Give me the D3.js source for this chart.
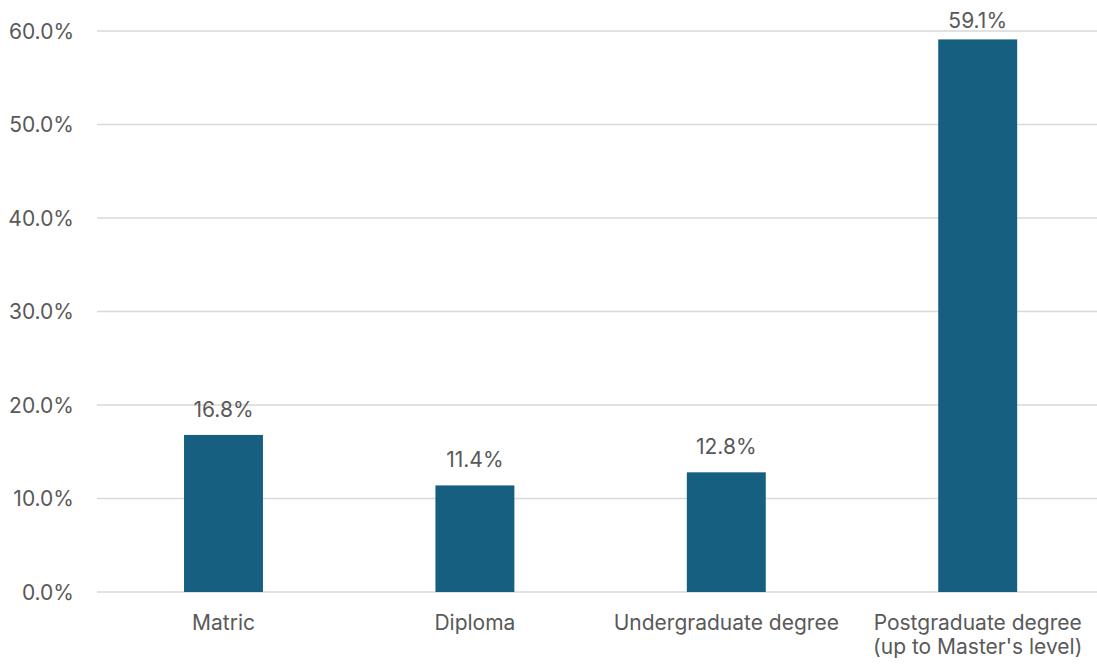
<!DOCTYPE html>
<html>
<head>
<meta charset="utf-8">
<script src="https://cdn.jsdelivr.net/npm/d3@7"></script>
<style>
  html, body { margin: 0; padding: 0; background: #fff; }
  svg { display: block; }
  text { font-family: Inter, "Open Sans", sans-serif; fill: #595959; }
</style>
</head>
<body>
<svg id="chart" width="1097" height="664"></svg>
<script>
// Share of respondents by highest qualification (percent)
const categories = ["Matric", "Diploma", "Undergraduate degree", "Postgraduate degree\n(up to Master's level)"];
const values = [16.8, 11.4, 12.8, 59.1];
const yTicks = [0, 10, 20, 30, 40, 50, 60];

const svg = d3.select("#chart");
const W = 1097;
const FS = 21;

const x = d3.scaleBand()
  .domain(categories)
  .range([97.8, 1103.4])
  .paddingInner(0.686)
  .paddingOuter(0.343);

const y = d3.scaleLinear().domain([0, 60]).range([592, 31]);

// Horizontal gridlines
svg.append("g")
  .selectAll("line")
  .data(yTicks)
  .join("line")
  .attr("x1", 97)
  .attr("x2", W)
  .attr("y1", d => y(d))
  .attr("y2", d => y(d))
  .attr("stroke", "#d9d9d9")
  .attr("stroke-width", 1.3);

// Y axis labels
const yAxis = d3.axisLeft(y).tickValues(yTicks).tickFormat(d => d3.format(".1f")(d) + "%").tickSize(0).tickPadding(0);
const gy = svg.append("g").attr("transform", "translate(74,0)").call(yAxis);
gy.select(".domain").remove();
gy.selectAll("text")
  .attr("font-size", FS)
  .attr("font-family", "Inter, 'Open Sans', sans-serif")
  .attr("fill", "#595959")
  .attr("dy", "0.35em");

// Bars
svg.append("g")
  .selectAll("rect")
  .data(values)
  .join("rect")
  .attr("x", (d, i) => x(categories[i]))
  .attr("width", x.bandwidth())
  .attr("y", d => y(d))
  .attr("height", d => y(0) - y(d))
  .attr("fill", "#175f80");

// Value labels above bars
svg.append("g")
  .selectAll("text")
  .data(values)
  .join("text")
  .attr("x", (d, i) => x(categories[i]) + x.bandwidth() / 2)
  .attr("y", d => Math.max(y(d) - 18, 28))
  .attr("text-anchor", "middle")
  .attr("font-size", FS)
  .text(d => d3.format(".1f")(d) + "%");

// Category labels (multi-line where needed)
const cat = svg.append("g")
  .selectAll("text")
  .data(categories)
  .join("text")
  .attr("x", d => x(d) + x.bandwidth() / 2)
  .attr("y", 630)
  .attr("text-anchor", "middle")
  .attr("font-size", FS);
cat.each(function(d) {
  const t = d3.select(this);
  d.split("\n").forEach((line, i) => {
    t.append("tspan")
      .attr("x", t.attr("x"))
      .attr("dy", i === 0 ? 0 : 24)
      .text(line);
  });
});
</script>
</body>
</html>
